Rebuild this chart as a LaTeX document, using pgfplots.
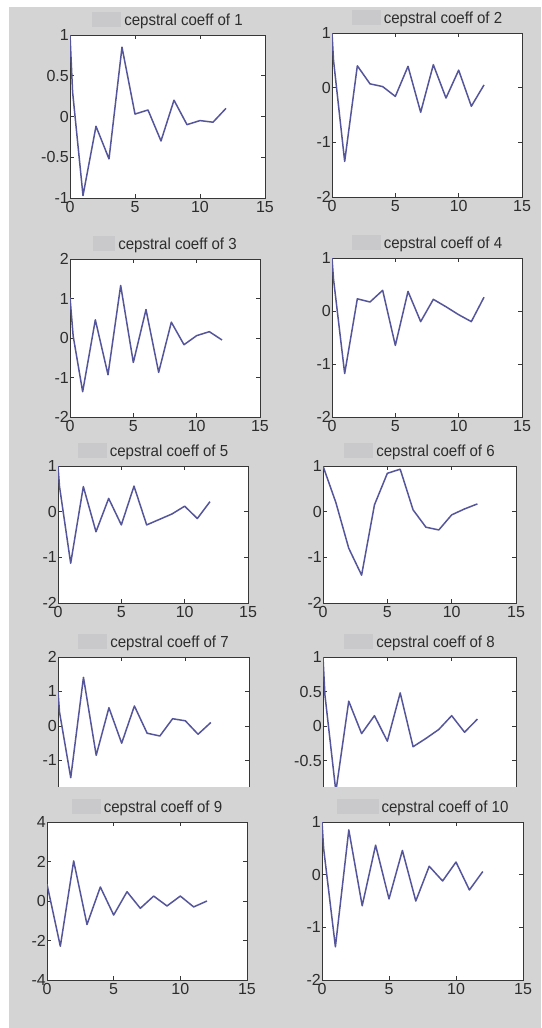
\documentclass[border=0pt]{standalone}
\usepackage{pgfplots}
\pgfplotsset{compat=1.18}
\usepackage{fontspec}
\setmainfont{Liberation Sans}
\newfontfamily\titlefam[FakeStretch=0.94]{Liberation Sans}
\definecolor{bg}{RGB}{212,212,212}
\definecolor{blob}{RGB}{201,201,204}
\definecolor{axisc}{RGB}{55,55,55}
\definecolor{labc}{RGB}{45,45,45}
\definecolor{linec}{RGB}{85,85,155}
\newcommand\ttl[2][29]{\textcolor{blob}{\rule[-2pt]{#1pt}{15pt}}\hspace{3pt}cepstral coeff of #2}
\pgfplotsset{
  cep/.style={
    scale only axis,
    xmin=0, xmax=15,
    xtick={0,5,10,15}, xticklabels={0,5,10,15},
    tick align=inside,
    major tick length=4pt,
    axis line style={draw=axisc, line width=0.9pt},
    every tick/.style={draw=axisc, line width=0.8pt},
    axis background/.style={fill=white},
    tick label style={font=\fontsize{16}{16}\selectfont, text=labc},
    yticklabel style={inner sep=1pt},
    xticklabel style={inner sep=1pt, yshift=-2pt},
    title style={at={(0.5,1)}, anchor=base, yshift=4pt,
      font=\titlefam\fontsize{16}{16}\selectfont, text=labc},
    anchor=north west,
  },
  cepline/.style={color=linec, line width=1.5pt, line join=round, no markers},
}
\begin{document}
\begin{tikzpicture}
\fill[white] (0,0) rectangle (541pt,-1028pt);
\fill[bg] (9pt,-7pt) rectangle (541pt,-1028pt);

% Panel 1
\begin{axis}[cep, at={(70pt,-35pt)}, width=195pt, height=163pt,
  ymin=-1, ymax=1, ytick={-1,-0.5,0,0.5,1}, yticklabels={-1,-0.5,0,0.5,1},
  title={\ttl{1}}]
\addplot[cepline] coordinates {(0,1) (0.2,0.3) (1,-0.97) (2,-0.12) (3,-0.52) (4,0.85) (5,0.03) (6,0.08) (7,-0.3) (8,0.2) (9,-0.1) (10,-0.05) (11,-0.07) (12,0.1)};
\end{axis}

% Panel 2
\begin{axis}[cep, at={(332pt,-33pt)}, width=190pt, height=164pt,
  ymin=-2, ymax=1, ytick={-2,-1,0,1}, yticklabels={-2,-1,0,1},
  title={\ttl{2}}]
\addplot[cepline] coordinates {(0,1) (0.12,0.5) (1,-1.35) (2,0.4) (3,0.07) (4,0.02) (5,-0.16) (6,0.39) (7,-0.45) (8,0.42) (9,-0.19) (10,0.32) (11,-0.34) (12,0.05)};
\end{axis}

% Panel 3
\begin{axis}[cep, at={(70pt,-259pt)}, width=190pt, height=158pt,
  ymin=-2, ymax=2, ytick={-2,-1,0,1,2}, yticklabels={-2,-1,0,1,2},
  title={\ttl[22]{3}}]
\addplot[cepline] coordinates {(0,1.03) (0.25,0.05) (1,-1.36) (2,0.46) (3,-0.93) (4,1.33) (5,-0.62) (6,0.72) (7,-0.87) (8,0.40) (9,-0.17) (10,0.06) (11,0.16) (12,-0.05)};
\end{axis}

% Panel 4
\begin{axis}[cep, at={(332pt,-258pt)}, width=190pt, height=159pt,
  ymin=-2, ymax=1, ytick={-2,-1,0,1}, yticklabels={-2,-1,0,1},
  title={\ttl{4}}]
\addplot[cepline] coordinates {(0,1) (0.12,0.6) (1,-1.18) (2,0.23) (3,0.17) (4,0.39) (5,-0.65) (6,0.37) (7,-0.2) (8,0.22) (9,0.08) (10,-0.07) (11,-0.2) (12,0.26)};
\end{axis}

% Panel 5
\begin{axis}[cep, at={(58pt,-466pt)}, width=190pt, height=137pt,
  ymin=-2, ymax=1, ytick={-2,-1,0,1}, yticklabels={-2,-1,0,1},
  title={\ttl{5}}]
\addplot[cepline] coordinates {(0,1) (0.12,0.55) (1,-1.13) (2,0.55) (3,-0.44) (4,0.29) (5,-0.29) (6,0.56) (7,-0.29) (8,-0.17) (9,-0.05) (10,0.12) (11,-0.15) (12,0.22)};
\end{axis}

% Panel 6
\begin{axis}[cep, at={(323pt,-466pt)}, width=193pt, height=137pt,
  ymin=-2, ymax=1, ytick={-2,-1,0,1}, yticklabels={-2,-1,0,1},
  title={\ttl{6}}]
\addplot[cepline] coordinates {(0,1) (1,0.2) (2,-0.8) (3,-1.39) (4,0.15) (5,0.84) (6,0.93) (7,0.04) (8,-0.34) (9,-0.4) (10,-0.07) (11,0.06) (12,0.17)};
\end{axis}

% Panel 7 (cut at the bottom)
\begin{axis}[cep, at={(58pt,-657pt)}, width=191pt, height=130pt,
  ymin=-1.77, ymax=2, ytick={-1,0,1,2}, yticklabels={-1,0,1,2},
  xtick pos=upper, xticklabels={},
  title={\ttl{7}}]
\addplot[cepline] coordinates {(0,1) (0.12,0.4) (1,-1.5) (2,1.41) (3,-0.85) (4,0.53) (5,-0.5) (6,0.58) (7,-0.21) (8,-0.29) (9,0.21) (10,0.15) (11,-0.24) (12,0.1)};
\end{axis}

% Panel 8 (cut at the bottom)
\begin{axis}[cep, at={(323pt,-657pt)}, width=193pt, height=130pt,
  ymin=-0.884, ymax=1, ytick={-0.5,0,0.5,1}, yticklabels={-0.5,0,0.5,1},
  xtick pos=upper, xticklabels={},
  title={\ttl{8}}]
\addplot[cepline] coordinates {(0,1) (0.15,0.45) (1,-0.95) (2,0.36) (3,-0.11) (4,0.15) (5,-0.22) (6,0.48) (7,-0.3) (8,-0.18) (9,-0.05) (10,0.15) (11,-0.09) (12,0.1)};
\end{axis}

\fill[bg] (9pt,-786.5pt) rectangle (541pt,-793pt);

% Panel 9
\begin{axis}[cep, at={(47pt,-822pt)}, width=200pt, height=158pt,
  ymin=-4, ymax=4, ytick={-4,-2,0,2,4}, yticklabels={-4,-2,0,2,4},
  title={\ttl{9}}]
\addplot[cepline] coordinates {(0,0.85) (1,-2.29) (2,2.03) (3,-1.19) (4,0.71) (5,-0.71) (6,0.47) (7,-0.37) (8,0.25) (9,-0.25) (10,0.25) (11,-0.3) (12,0)};
\end{axis}

% Panel 10
\begin{axis}[cep, at={(322pt,-822pt)}, width=201pt, height=158pt,
  ymin=-2, ymax=1, ytick={-2,-1,0,1}, yticklabels={-2,-1,0,1},
  title={\ttl[42]{10}}]
\addplot[cepline] coordinates {(0,1) (0.12,0.5) (1,-1.37) (2,0.85) (3,-0.59) (4,0.56) (5,-0.46) (6,0.46) (7,-0.5) (8,0.16) (9,-0.12) (10,0.24) (11,-0.29) (12,0.06)};
\end{axis}

\pgfresetboundingbox
\useasboundingbox (0,0) rectangle (541pt,-1028pt);
\end{tikzpicture}
\end{document}
